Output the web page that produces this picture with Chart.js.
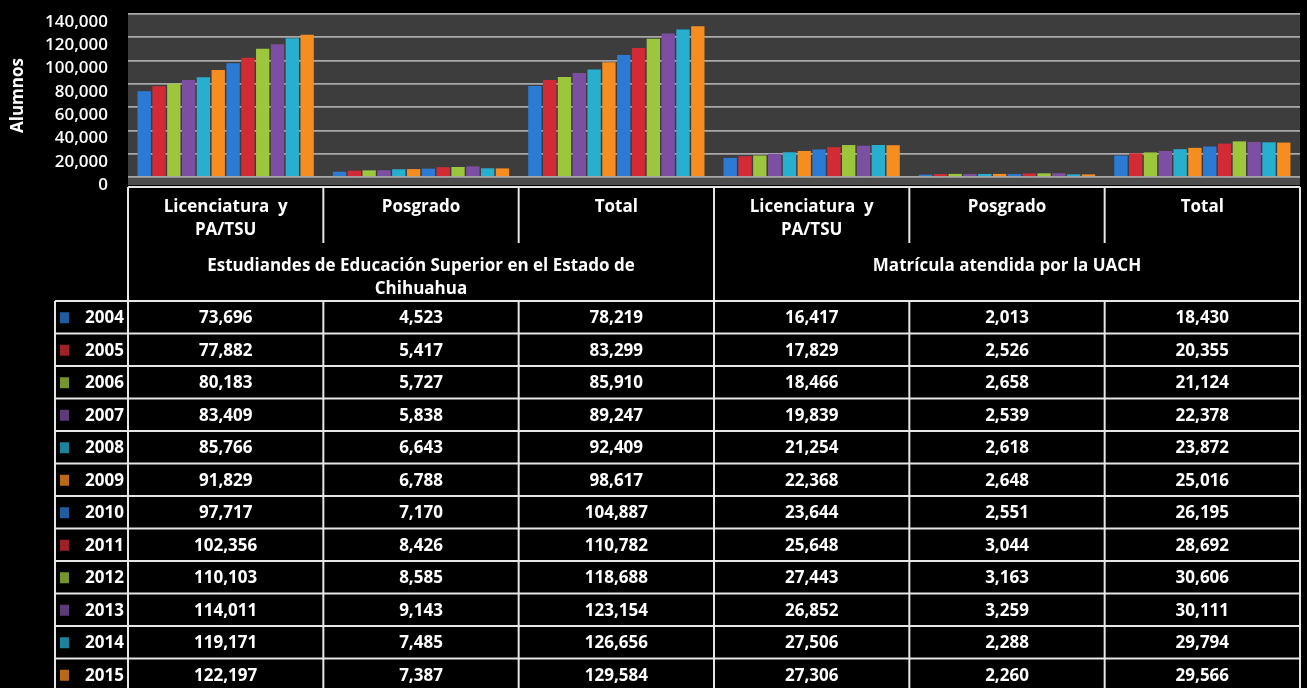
<!DOCTYPE html>
<html>
<head>
<meta charset="utf-8">
<script src="https://cdn.jsdelivr.net/npm/chart.js@4"></script>
<style>
  html, body { margin: 0; padding: 0; background: #000; }
  #wrap { width: 1307px; height: 688px; position: relative; }
</style>
</head>
<body>
<div id="wrap"><canvas id="chart"></canvas></div>
<script>
// column headers (one per bar group) and the two header groups
const categories = [
  ['Licenciatura  y', 'PA/TSU'], ['Posgrado'], ['Total'],
  ['Licenciatura  y', 'PA/TSU'], ['Posgrado'], ['Total']
];
const groups = [
  ['Estudiandes de Educación Superior en el Estado de', 'Chihuahua'],
  ['Matrícula atendida por la UACH']
];
const years = ['2004', '2005', '2006', '2007', '2008', '2009', '2010', '2011', '2012', '2013', '2014', '2015'];
const yTicks = [0, 20000, 40000, 60000, 80000, 100000, 120000, 140000];

// values per year, in category order
const v2004 = [73696, 4523, 78219, 16417, 2013, 18430];
const v2005 = [77882, 5417, 83299, 17829, 2526, 20355];
const v2006 = [80183, 5727, 85910, 18466, 2658, 21124];
const v2007 = [83409, 5838, 89247, 19839, 2539, 22378];
const v2008 = [85766, 6643, 92409, 21254, 2618, 23872];
const v2009 = [91829, 6788, 98617, 22368, 2648, 25016];
const v2010 = [97717, 7170, 104887, 23644, 2551, 26195];
const v2011 = [102356, 8426, 110782, 25648, 3044, 28692];
const v2012 = [110103, 8585, 118688, 27443, 3163, 30606];
const v2013 = [114011, 9143, 123154, 26852, 3259, 30111];
const v2014 = [119171, 7485, 126656, 27506, 2288, 29794];
const v2015 = [122197, 7387, 129584, 27306, 2260, 29566];
const series = [v2004, v2005, v2006, v2007, v2008, v2009, v2010, v2011, v2012, v2013, v2014, v2015];

const palette = ['#2b7bd4', '#d32b36', '#9cc63c', '#7c4fa2', '#27afd0', '#f68d20'];
const FONT = '"Open Sans", Lato, sans-serif';
const fmt = n => n.toLocaleString('en-US');

const backdrop = {
  id: 'backdrop',
  beforeDraw(chart) {
    const { ctx, chartArea: a } = chart;
    ctx.save();
    ctx.fillStyle = '#000';
    ctx.fillRect(0, 0, chart.width, chart.height);
    ctx.fillStyle = '#3d3d3d';
    ctx.fillRect(a.left, a.top, a.right - a.left, a.bottom - a.top);
    // floor strip
    ctx.fillStyle = '#4c4c4c';
    ctx.fillRect(a.left, a.bottom, a.right - a.left, 8);
    ctx.restore();
  }
};

const dataTable = {
  id: 'dataTable',
  afterDraw(chart) {
    const { ctx } = chart;
    const x = chart.scales.x;
    const half = x.width / categories.length / 2;
    const edge = i => (i < categories.length ? x.getPixelForValue(i) - half : x.getPixelForValue(categories.length - 1) + half);
    const left = 55, yearRight = edge(0);
    const top = 187, mid = 243, rowsTop = 301, rowH = 32.5;
    const bottom = rowsTop + rowH * years.length;
    ctx.save();
    ctx.strokeStyle = '#e6e6e6';
    ctx.lineWidth = 2;
    const line = (x1, y1, x2, y2) => { ctx.beginPath(); ctx.moveTo(x1, y1); ctx.lineTo(x2, y2); ctx.stroke(); };

    // header borders
    line(edge(0), top, edge(categories.length), top);
    for (let i = 1; i < categories.length; i++) {
      line(edge(i), top, edge(i), i === 3 ? rowsTop : mid);
    }
    line(edge(0), top, edge(0), bottom);
    line(edge(categories.length), top, edge(categories.length), bottom);
    // data borders
    line(left, rowsTop, left, bottom);
    for (let r = 0; r <= years.length; r++) line(left, rowsTop + r * rowH, edge(categories.length), rowsTop + r * rowH);
    for (let i = 1; i < categories.length; i++) line(edge(i), rowsTop, edge(i), bottom);

    ctx.fillStyle = '#fff';
    ctx.textAlign = 'center';
    ctx.textBaseline = 'middle';
    ctx.font = 'bold 17px ' + FONT;
    categories.forEach((lbl, i) => {
      lbl.forEach((t, k) => ctx.fillText(t, x.getPixelForValue(i), 207 + k * 23));
    });
    groups.forEach((lbl, g) => {
      const cx = (edge(g * 3) + edge(g * 3 + 3)) / 2;
      lbl.forEach((t, k) => ctx.fillText(t, cx, 266 + k * 23));
    });

    ctx.font = 'bold 17px ' + FONT;
    years.forEach((yr, r) => {
      const cy = rowsTop + r * rowH + rowH / 2 + 1;
      ctx.globalAlpha = 0.75;
      ctx.fillStyle = palette[r % palette.length];
      ctx.fillRect(60, cy - 6, 9, 11);
      ctx.globalAlpha = 1;
      ctx.fillStyle = '#fff';
      ctx.textAlign = 'right';
      ctx.fillText(yr, yearRight - 4, cy);
      ctx.textAlign = 'center';
      series[r].forEach((v, i) => ctx.fillText(fmt(v), x.getPixelForValue(i), cy));
    });
    ctx.restore();
  }
};

new Chart(document.getElementById('chart'), {
  type: 'bar',
  data: {
    labels: categories.map(c => c.join(' ')),
    datasets: series.map((vals, r) => ({
      label: years[r],
      data: vals,
      backgroundColor: palette[r % palette.length],
      borderWidth: 0,
      categoryPercentage: 0.91,
      barPercentage: 0.9
    }))
  },
  options: {
    responsive: true,
    maintainAspectRatio: false,
    animation: false,
    layout: { padding: { top: 14, right: 7, bottom: 511, left: 0 } },
    plugins: { legend: { display: false }, tooltip: { enabled: false } },
    scales: {
      x: { display: false },
      y: {
        min: 0, max: 140000,
        afterFit(scale) { scale.width = 128; scale.paddingTop = 0; scale.paddingBottom = 0; },
        afterBuildTicks(scale) { scale.ticks = yTicks.map(v => ({ value: v })); },
        ticks: {
          color: '#fff',
          padding: 20,
          labelOffset: 8,
          autoSkip: false,
          font: { family: FONT, size: 17, weight: '600' },
          callback: v => fmt(v)
        },
        grid: { color: '#a8a8a8', lineWidth: 1.8, drawTicks: false },
        border: { display: false },
        title: {
          display: true,
          text: 'Alumnos',
          color: '#fff',
          padding: { top: 8, bottom: 0 },
          font: { family: FONT, size: 17, weight: 'bold' }
        }
      }
    }
  },
  plugins: [backdrop, dataTable]
});
</script>
</body>
</html>
